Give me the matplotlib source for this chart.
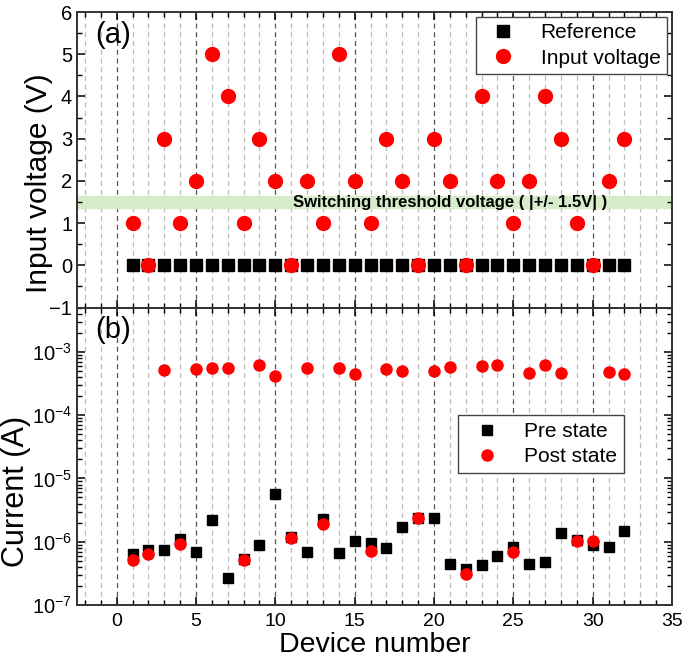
import matplotlib.pyplot as plt
from matplotlib.ticker import MultipleLocator, LogLocator, NullFormatter

plt.rcParams['font.family'] = ['Liberation Sans', 'DejaVu Sans']

# device numbers 1..32
devices = list(range(1, 33))

# (a) applied input voltage per device, reference level is 0 V
ref_voltage = [0] * 32
input_voltage = [1, 0, 3, 1, 2, 5, 4, 1, 3, 2, 0, 2, 1, 5, 2, 1,
                 3, 2, 0, 3, 2, 0, 4, 2, 1, 2, 4, 3, 1, 0, 2, 3]

# (b) current before switching (all devices)
pre_current = [6.4e-7, 7.5e-7, 7.5e-7, 1.1e-6, 6.8e-7, 2.2e-6, 2.7e-7, 5.4e-7,
               9.0e-7, 5.7e-6, 1.2e-6, 6.8e-7, 2.3e-6, 6.6e-7, 1.04e-6, 9.5e-7,
               7.9e-7, 1.7e-6, 2.4e-6, 2.4e-6, 4.5e-7, 3.7e-7, 4.3e-7, 5.9e-7,
               8.4e-7, 4.5e-7, 4.8e-7, 1.37e-6, 1.08e-6, 9.0e-7, 8.2e-7, 1.5e-6]
# current after switching
post_current = [5.2e-7, 6.4e-7, 5.2e-4, 9.2e-7, 5.3e-4, 5.5e-4, 5.6e-4, 5.2e-7,
                6.1e-4, 4.1e-4, 1.15e-6, 5.6e-4, 1.9e-6, 5.6e-4, 4.4e-4, 7.1e-7,
                5.3e-4, 4.9e-4, 2.4e-6, 5.0e-4, 5.7e-4, 3.1e-7, 5.9e-4, 6.3e-4,
                7.0e-7, 4.6e-4, 6.1e-4, 4.6e-4, 1.02e-6, 1.03e-6, 4.75e-4, 4.5e-4]

threshold_text = "Switching threshold voltage ( |+/- 1.5V| )"

fig = plt.figure(figsize=(6.85, 6.6), dpi=100)
ax1 = fig.add_axes([0.1124, 0.534, 0.8686, 0.4478])
ax2 = fig.add_axes([0.1124, 0.0833, 0.8686, 0.4507])

for ax in (ax1, ax2):
    for x in range(-2, 35):
        if x % 5 == 0:
            ax.axvline(x, color='#555555', lw=0.9, ls=(0, (4, 3)), zorder=0)
        else:
            ax.axvline(x, color='#bbbbbb', lw=0.9, ls=(0, (4, 3)), zorder=0)
    ax.set_xlim(-2.5, 35)
    ax.xaxis.set_major_locator(MultipleLocator(5))
    ax.xaxis.set_minor_locator(MultipleLocator(1))
    ax.tick_params(which='both', direction='in', top=True, right=True,
                   labelsize=14.5, colors='black')
    ax.tick_params(which='major', length=6, width=1.1)
    ax.tick_params(which='minor', length=3.5, width=1.0)
    for s in ax.spines.values():
        s.set_linewidth(1.4)
        s.set_color('#333333')

# ---- (a)
ax1.axhspan(1.35, 1.65, color='#d6ecca', zorder=0.5)
ax1.plot(devices, ref_voltage, 's', color='black', ms=9.3, label='Reference')
ax1.plot(devices, input_voltage, 'o', color='#ff0000', ms=10, label='Input voltage')
ax1.text(21, 1.5, threshold_text, fontsize=12, fontweight='bold',
         ha='center', va='center')
ax1.set_ylim(-1, 6)
ax1.yaxis.set_major_locator(MultipleLocator(1))
ax1.yaxis.set_minor_locator(MultipleLocator(0.5))
ax1.tick_params(axis='x', labelbottom=False)
ax1.set_ylabel('Input voltage (V)', fontsize=21.5)
ax1.yaxis.set_label_coords(-0.040, 0.421)
ax1.text(0.03, 0.97, '(a)', transform=ax1.transAxes, fontsize=21,
         ha='left', va='top')
leg1 = ax1.legend(loc='upper right', fontsize=15, numpoints=1, fancybox=False,
                  edgecolor='#444444', borderaxespad=0.25, handletextpad=0.8,
                  borderpad=0.3, labelspacing=0.3)
leg1.get_frame().set_linewidth(1.0)
leg1.get_frame().set_alpha(1)

# ---- (b)
ax2.semilogy(devices, pre_current, 's', color='black', ms=6.8, label='Pre state')
ax2.semilogy(devices, post_current, 'o', color='#ff0000', ms=8, label='Post state')
ax2.set_ylim(1e-7, 5e-3)
ax2.yaxis.set_major_locator(LogLocator(base=10, numticks=10))
ax2.yaxis.set_minor_locator(LogLocator(base=10, subs=range(2, 10), numticks=10))
ax2.yaxis.set_minor_formatter(NullFormatter())
ax2.set_ylabel('Current (A)', fontsize=22)
ax2.yaxis.set_label_coords(-0.077, 0.382)
ax2.tick_params(axis='x', pad=6, labelsize=14)
ax2.set_xlabel('Device number', fontsize=20.5)
ax2.xaxis.set_label_coords(0.5, -0.09)
ax2.text(0.03, 0.97, '(b)', transform=ax2.transAxes, fontsize=21,
         ha='left', va='top')
leg2 = ax2.legend(loc='upper left', bbox_to_anchor=(0.641, 0.64), fontsize=15,
                  numpoints=1, fancybox=False, edgecolor='#444444',
                  borderaxespad=0, handletextpad=0.8, borderpad=0.35,
                  labelspacing=0.3)
leg2.get_frame().set_linewidth(1.0)
leg2.get_frame().set_alpha(1)

fig.savefig('out.png', dpi=100)
